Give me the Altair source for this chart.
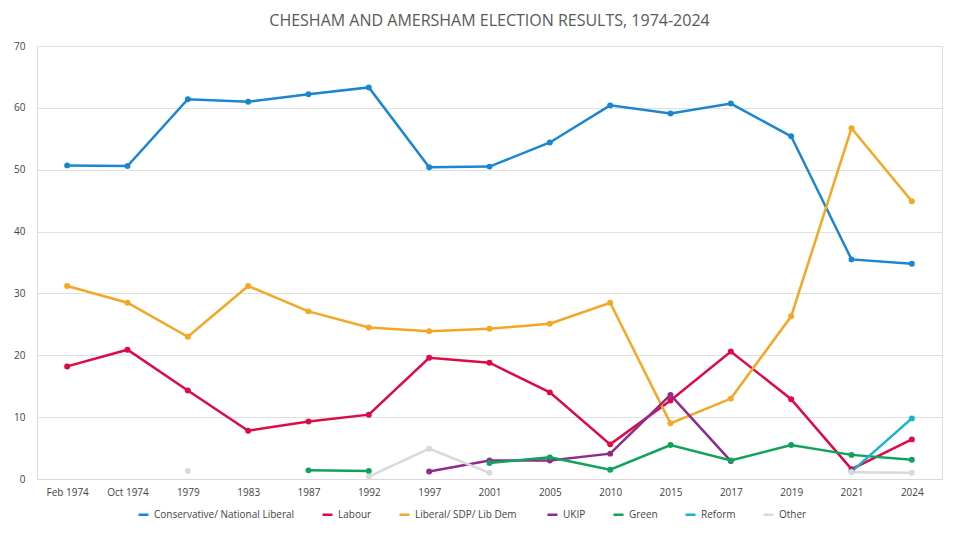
import altair as alt
import pandas as pd

years = ["Feb 1974","Oct 1974","1979","1983","1987","1992","1997","2001","2005","2010","2015","2017","2019","2021","2024"]
N = None
con = [50.7,50.6,61.4,61.0,62.2,63.3,50.4,50.5,54.4,60.4,59.1,60.7,55.4,35.5,34.8]
lab = [18.2,20.9,14.3,7.8,9.3,10.4,19.6,18.8,14.0,5.6,12.7,20.6,12.9,1.6,6.4]
ld = [31.2,28.5,23.0,31.2,27.1,24.5,23.9,24.3,25.1,28.5,9.0,13.0,26.3,56.7,44.9]
ukip = [N,N,N,N,N,N,1.2,3.0,3.0,4.1,13.6,2.9,N,N,N]
green = [N,N,N,N,1.4,1.3,N,2.6,3.5,1.5,5.5,3.0,5.5,3.9,3.1]
reform = [N,N,N,N,N,N,N,N,N,N,N,N,N,1.2,9.8]
other = [N,N,1.3,N,N,0.4,4.9,1.0,N,N,N,N,N,1.1,1.0]

series = [("Conservative/ National Liberal",con,"#1a86d0"),("Labour",lab,"#de0a45"),
          ("Liberal/ SDP/ Lib  Dem",ld,"#f5a623"),("UKIP",ukip,"#8e2c8e"),
          ("Green",green,"#0ea35a"),("Reform",reform,"#17b3cc"),("Other",other,"#d9d9d9")]

rows = []
for name, vals, _ in series:
    seg = 0
    prev = None
    for y, v in zip(years, vals):
        if v is None:
            if prev is not None:
                seg += 1
            prev = None
            continue
        rows.append({"year": y, "party": name, "value": v, "seg": f"{name}-{seg}"})
        prev = v
df = pd.DataFrame(rows)

names = [s[0] for s in series]
colors = [s[2] for s in series]
color = alt.Color("party:N", scale=alt.Scale(domain=names, range=colors),
                  legend=alt.Legend(orient="none", legendX=100, legendY=462, title=None, labelFontSize=10, labelColor="#444",
                                    symbolType="stroke", symbolStrokeWidth=2.5, columnPadding=22, direction="horizontal"))
x = alt.X("year:N", sort=years, scale=alt.Scale(domain=years, paddingOuter=0.3), axis=alt.Axis(title=None, labelAngle=0, labelFontSize=10, labelColor="#444", ticks=False, domainColor="#d9d9d9", labelPadding=8))
y = alt.Y("value:Q", scale=alt.Scale(domain=[0,70]), axis=alt.Axis(title=None, values=list(range(0,71,10)), labelFontSize=10, labelColor="#444", ticks=False, domain=False, gridColor="#e0e0e0", labelPadding=12))

base = alt.Chart(df)
lines = base.mark_line(strokeWidth=2.5).encode(x=x, y=y, color=color, detail="seg:N")
pts = base.mark_point(filled=True, size=35, opacity=1).encode(x=x, y=y, color=color)
chart = (lines + pts).properties(
    width=905, height=433,
    title=alt.TitleParams("CHESHAM AND AMERSHAM ELECTION RESULTS, 1974-2024", fontSize=16, font="Open Sans", fontWeight="normal", color="#595959", offset=12),
).configure_view(stroke=None).configure(font="Open Sans")
chart.save("out.html", embed_options={"renderer": "svg", "actions": False})
